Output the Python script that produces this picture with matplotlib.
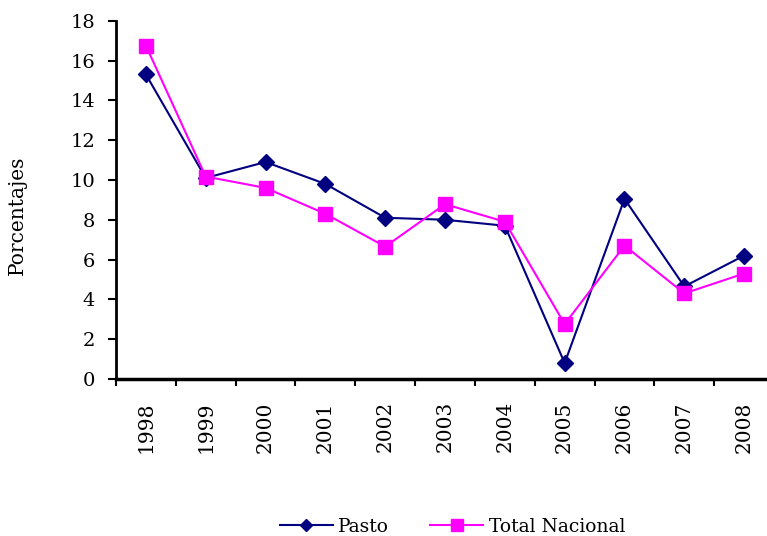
import numpy as np
import matplotlib
matplotlib.use("Agg")
import matplotlib.pyplot as plt

years = ["1998", "1999", "2000", "2001", "2002", "2003", "2004", "2005", "2006", "2007", "2008"]
pasto = [15.3, 10.1, 10.9, 9.8, 8.1, 8.0, 7.7, 0.8, 9.05, 4.65, 6.2]
total_nacional = [16.75, 10.17, 9.6, 8.3, 6.65, 8.78, 7.9, 2.76, 6.7, 4.3, 5.3]

plt.rcParams['font.family'] = ['DejaVu Serif']

fig = plt.figure(figsize=(7.67, 5.36), dpi=100)
# axes extends past the right edge, as in the original
ax = fig.add_axes([0.1512, 0.2929, 0.858, 0.6685])

x = np.arange(len(years))
ax.plot(x, pasto, color="#000080", lw=1.5, marker="D", ms=8, label="Pasto", clip_on=False)
ax.plot(x, total_nacional, color="#FF00FF", lw=1.5, marker="s", ms=10, label="Total Nacional", clip_on=False)

ax.set_xlim(-0.5, len(years) - 0.5)
ax.set_ylim(0, 18)
ax.set_yticks(range(0, 19, 2))
ax.set_xticks(x)
ax.set_xticklabels(years, rotation=90)
ax.set_xticks(np.arange(-0.5, len(years), 1), minor=True)
ax.tick_params(axis="x", which="major", length=0, pad=16, labelsize=14.5)
ax.tick_params(axis="x", which="minor", length=5, width=1.5, direction="out")
ax.tick_params(axis="y", length=6, width=1.5, pad=9, labelsize=14)

for s in ["top", "right"]:
    ax.spines[s].set_visible(False)
ax.spines["left"].set_linewidth(2)
ax.spines["bottom"].set_linewidth(2.5)

ax.set_ylabel("Porcentajes", fontsize=14.5)
ax.yaxis.set_label_coords(-0.135, 0.458)

fig.legend(loc="center", bbox_to_anchor=(0.59, 0.017), ncol=2, frameon=False,
           fontsize=13.5, handlelength=2.8, columnspacing=2.2, handletextpad=0.3,
           borderaxespad=0, markerscale=0.8)

fig.savefig("out.png", dpi=100)
